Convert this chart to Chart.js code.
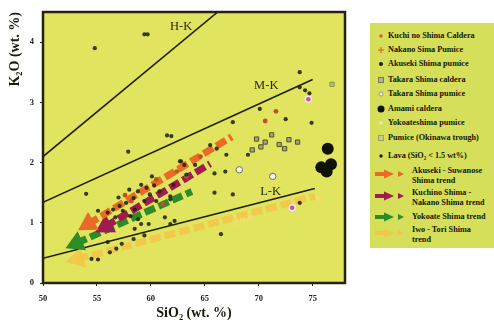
<!DOCTYPE html>
<html lang="en">
<head>
    <meta charset="UTF-8">
    <title>K2O vs SiO2</title>
    <script src="https://cdn.jsdelivr.net/npm/chart.js"></script>
    <style>
        html, body { margin: 0; padding: 0; background: #fff; }
        .wrap { position: relative; width: 494px; height: 322px; overflow: hidden; }
        .legend {
            position: absolute; left: 370px; top: 23px; width: 130px; height: 225px;
            background: #d5df5a;
            font: bold 8.2px "Liberation Serif", "DejaVu Serif", serif; color: #151505;
        }
        .legend .row { position: absolute; left: 0; white-space: nowrap; line-height: 10px; }
        .legend .mk { position: absolute; left: 4px; width: 10px; height: 10px; }
        .legend .tx { position: absolute; left: 18px; top: 0; }
        .legend .trend .tx { left: 42px; }
        .legend svg { position: absolute; left: 2px; top: 0; }
    </style>
</head>
<body>
<div class="wrap">
    <canvas id="chart" width="494" height="322"></canvas>
    <div class="legend" id="legend"></div>
</div>
<script>
// axes
const xTicks = [50, 55, 60, 65, 70, 75];
const yTicks = [0, 1, 2, 3, 4];

// classification boundaries
const zoneNames = ['H-K', 'M-K', 'L-K'];
const zoneX = [[50, 66.2], [50, 75], [50, 75.2]];
const zoneY = [[2.1, 4.5], [1.34, 3.38], [0.41, 1.57]];
const zoneLabelX = [62.8, 70.7, 71.1];
const zoneLabelY = [4.26, 3.28, 1.52];

// scatter groups
const lavaX = [54.8, 59.4, 59.7, 57.9, 54.0, 60.1, 59.1, 59.6, 58.8, 58.4, 59.9, 60.8, 59.4, 57.7, 57.1,
    56.5, 57.4, 58.5, 58.8, 56.0, 56.7, 58.1, 60.5, 61.8, 62.1, 62.7, 63.1, 63.3, 61.8, 55.1, 59.1,
    61.9, 62.8, 64.1, 65.5, 66.1, 67.0, 67.6, 69.0, 66.9, 65.9, 65.9, 67.6, 61.8, 66.5, 58.5, 58.4,
    57.3, 56.8, 56.2, 54.5, 55.1, 56.0, 59.4, 59.8, 61.3, 62.2, 61.5, 70.1, 72.5, 74.9, 73.8, 73.8,
    74.3, 74.7, 73.8, 57.0, 58.0, 60.3];
const lavaY = [3.9, 4.13, 4.13, 2.18, 1.48, 1.77, 1.63, 1.58, 1.52, 1.41, 1.47, 1.52, 1.36, 1.33, 1.28,
    1.22, 1.2, 1.22, 1.06, 1.17, 1.09, 1.11, 1.36, 1.44, 1.63, 2.02, 1.96, 1.8, 0.98, 1.2, 0.98,
    2.44, 2.02, 1.96, 2.29, 2.23, 2.13, 2.67, 2.13, 1.85, 1.82, 1.5, 1.47, 1.39, 0.81, 0.9, 0.73,
    0.65, 0.57, 0.51, 0.4, 0.39, 0.68, 0.79, 0.98, 1.09, 1.03, 2.45, 2.89, 2.72, 2.66, 3.5, 3.25,
    3.2, 3.15, 1.33, 1.42, 1.55, 1.62];
const nakanoX = [60.5, 62.4, 63.3, 61.1, 71.6, 70.6, 64.6, 58.2, 57.6];
const nakanoY = [1.72, 1.85, 1.77, 1.31, 2.85, 2.69, 2.1, 1.36, 1.46];
const kuchiX = [74.6, 73.1];
const kuchiY = [3.05, 1.25];
const takaraCalderaX = [69.8, 69.4, 70.6, 71.2, 71.9, 72.8, 73.6, 70.2, 72.4];
const takaraCalderaY = [2.39, 2.21, 2.34, 2.46, 2.3, 2.38, 2.34, 2.26, 2.23];
const takaraPumiceX = [71.3, 68.2];
const takaraPumiceY = [1.77, 1.88];
const amamiX = [76.4, 75.8, 76.3, 76.7];
const amamiY = [2.23, 1.92, 1.85, 1.97];
const yokoatePumiceX = [67.8, 68.5, 69.2, 75.6];
const yokoatePumiceY = [1.0, 1.04, 1.08, 1.41];
const okinawaX = [76.8];
const okinawaY = [3.3];

// trends (first point = arrow head)
const trendNames = ['Akuseki - Suwanose Shima trend', 'Kuchino Shima - Nakano Shima trend', 'Yokoate Shima trend', 'Iwo - Tori Shima trend'];
const trendX = [[54.2, 67.5], [55.8, 65.5], [53.1, 63.8], [53.2, 75.2]];
const trendY = [[0.98, 2.43], [0.94, 1.98], [0.66, 1.52], [0.4, 1.44]];
const trendColors = ['#ea6a26', '#9e1c4e', '#2e8c26', 'rgba(244,196,70,0.85)'];

const pts = (xs, ys) => xs.map((x, i) => ({ x: x, y: ys[i] }));

const datasets = [];
zoneNames.forEach((n, i) => datasets.push({
    type: 'line', label: n, data: pts(zoneX[i], zoneY[i]),
    borderColor: '#1e1e0e', borderWidth: 1.6, pointRadius: 0, order: 5
}));
trendNames.forEach((n, i) => datasets.push({
    type: 'line', label: n, data: pts(trendX[i], trendY[i]),
    borderColor: trendColors[i], backgroundColor: trendColors[i],
    borderWidth: 7, borderDash: [11, 4],
    pointStyle: 'triangle', pointRadius: [12, 0], pointBorderWidth: 0,
    pointRotation: function (c) {
        const d = c.dataset.data, sx = c.chart.scales.x, sy = c.chart.scales.y;
        const dx = sx.getPixelForValue(d[0].x) - sx.getPixelForValue(d[1].x);
        const dy = sy.getPixelForValue(d[0].y) - sy.getPixelForValue(d[1].y);
        return Math.atan2(dx, -dy) * 180 / Math.PI;
    },
    order: 4
}));
datasets.push({ label: 'Lava', data: pts(lavaX, lavaY), pointRadius: 2.1, backgroundColor: 'rgba(38,38,18,0.9)', borderWidth: 0, order: 1 });
datasets.push({ label: 'Nakano Sima Pumice', data: pts(nakanoX, nakanoY), pointRadius: 2.4, backgroundColor: '#c0502a', borderWidth: 0, order: 1 });
datasets.push({ label: 'Kuchi no Shima Caldera', data: pts(kuchiX, kuchiY), pointRadius: 3, backgroundColor: '#d0508a', borderColor: '#f4e8f0', borderWidth: 1.5, order: 1 });
datasets.push({ label: 'Takara Shima caldera', data: pts(takaraCalderaX, takaraCalderaY), pointStyle: 'rect', pointRadius: 3, backgroundColor: '#a4a47a', borderColor: '#505030', borderWidth: 1, order: 1 });
datasets.push({ label: 'Takara Shima pumice', data: pts(takaraPumiceX, takaraPumiceY), pointRadius: 3.2, backgroundColor: '#f2f2f0', borderColor: '#707060', borderWidth: 1, order: 1 });
datasets.push({ label: 'Amami caldera', data: pts(amamiX, amamiY), pointRadius: 6, backgroundColor: '#111108', borderWidth: 0, order: 1 });
datasets.push({ label: 'Yokoateshima pumice', data: pts(yokoatePumiceX, yokoatePumiceY), pointStyle: 'crossRot', pointRadius: 4, borderColor: 'rgba(245,220,110,0.9)', borderWidth: 2, order: 1 });
datasets.push({ label: 'Pumice (Okinawa trough)', data: pts(okinawaX, okinawaY), pointStyle: 'rect', pointRadius: 3, backgroundColor: '#b8c070', borderColor: '#8a9050', borderWidth: 1, order: 1 });

const frame = {
    id: 'frame',
    beforeDraw(chart) {
        const a = chart.chartArea, c = chart.ctx;
        c.save();
        c.fillStyle = '#e1e45e';
        c.fillRect(a.left, a.top, a.right - a.left, a.bottom - a.top);
        c.restore();
    },
    afterDraw(chart) {
        const a = chart.chartArea, c = chart.ctx;
        c.save();
        c.strokeStyle = '#24230f';
        c.lineWidth = 2.5;
        c.strokeRect(a.left, a.top, a.right - a.left, a.bottom - a.top);
        c.font = '12.5px "Liberation Serif", serif';
        c.fillStyle = '#2a2a14';
        c.textAlign = 'center';
        c.textBaseline = 'middle';
        zoneNames.forEach((n, i) => {
            c.fillText(n, chart.scales.x.getPixelForValue(zoneLabelX[i]), chart.scales.y.getPixelForValue(zoneLabelY[i]));
        });
        c.restore();
    }
};

const tickFont = { family: '"Liberation Serif", serif', size: 8.5, weight: 'bold' };
const titleFont = { family: '"Liberation Serif", serif', size: 14, weight: 'bold' };

new Chart(document.getElementById('chart'), {
    type: 'scatter',
    data: { datasets: datasets },
    options: {
        responsive: false,
        animation: false,
        layout: { padding: { left: 0, top: 8, right: 149, bottom: 0 } },
        plugins: { legend: { display: false }, tooltip: { enabled: false } },
        scales: {
            x: {
                min: 50, max: 78,
                afterBuildTicks: s => { s.ticks = xTicks.map(v => ({ value: v })); },
                afterFit: s => { s.height = 39; },
                grid: { drawOnChartArea: false, tickLength: 3, color: '#24230f' },
                border: { display: false },
                ticks: { font: tickFont, color: '#222', padding: 8 },
                title: { display: true, text: 'SiO₂ (wt. %)', font: titleFont, color: '#1a1a0a', padding: { top: 0, bottom: 0 } }
            },
            y: {
                min: 0, max: 4.5,
                afterBuildTicks: s => { s.ticks = yTicks.map(v => ({ value: v })); },
                afterFit: s => { s.width = 43; },
                grid: { drawOnChartArea: false, tickLength: 3, color: '#24230f' },
                border: { display: false },
                ticks: { font: tickFont, color: '#222', padding: 6 },
                title: { display: true, text: 'K₂O (wt. %)', font: titleFont, color: '#1a1a0a', align: 'end', padding: { top: 7, bottom: 0 } }
            }
        }
    },
    plugins: [frame]
});

// legend
const legendRows = [
    { top: 8, text: 'Kuchi no Shima Caldera', mk: '<svg width="10" height="10"><circle cx="5" cy="5" r="1.8" fill="#d0603a"/></svg>' },
    { top: 22, text: 'Nakano Sima Pumice', mk: '<svg width="10" height="10"><path d="M5 2V8M2 5H8" stroke="#e07a30" stroke-width="1.5"/></svg>' },
    { top: 36, text: 'Akuseki Shima pumice', mk: '<svg width="10" height="10"><circle cx="5" cy="5" r="2" fill="#1c1c0c"/></svg>' },
    { top: 52, text: 'Takara Shima caldera', mk: '<svg width="10" height="10"><rect x="2.5" y="2.5" width="5" height="5" fill="#b4b48a" stroke="#7a7a55"/></svg>' },
    { top: 66, text: 'Takara Shima pumice', mk: '<svg width="10" height="10"><circle cx="5" cy="5" r="2" fill="#f4f4ee" stroke="#9a9a80"/></svg>' },
    { top: 81, text: 'Amami caldera', mk: '<svg width="10" height="10"><circle cx="5" cy="5" r="3.5" fill="#111108"/></svg>' },
    { top: 95, text: 'Yokoateshima pumice', mk: '<svg width="10" height="10"><circle cx="5" cy="5" r="1.8" fill="#eceaa0"/></svg>' },
    { top: 110, text: 'Pumice (Okinawa trough)', mk: '<svg width="10" height="10"><rect x="2.5" y="2.5" width="5" height="5" fill="#c8cc8a" stroke="#9aa060"/></svg>' },
    { top: 128, text: 'Lava (SiO₂ &lt; 1.5 wt%)', mk: '<svg width="10" height="10"><circle cx="5" cy="5" r="1.7" fill="#1c1c0c"/></svg>' }
];
const trendRows = [
    { top: 143, lines: ['Akuseki - Suwanose', 'Shima trend'] },
    { top: 165, lines: ['Kuchino Shima -', 'Nakano Shima trend'] },
    { top: 189, lines: ['Yokoate Shima trend'] },
    { top: 202, lines: ['Iwo - Tori Shima', 'trend'] }
];
const lg = document.getElementById('legend');
let html = '';
legendRows.forEach(r => {
    html += '<div class="row" style="top:' + r.top + 'px;width:130px;height:10px">' +
        '<span class="mk">' + r.mk + '</span><span class="tx">' + r.text + '</span></div>';
});
trendRows.forEach((r, i) => {
    const c = trendColors[i];
    const cy = r.lines.length > 1 ? 8 : 5;
    const icon = '<svg width="40" height="' + (cy * 2) + '">' +
        '<line x1="3" y1="' + cy + '" x2="14" y2="' + cy + '" stroke="' + c + '" stroke-width="4"/>' +
        '<path d="M12 ' + (cy - 4.5) + 'L22 ' + cy + 'L12 ' + (cy + 4.5) + 'Z" fill="' + c + '"/>' +
        '<path d="M26 ' + (cy - 3) + 'L32 ' + cy + 'L26 ' + (cy + 3) + 'Z" fill="' + c + '"/></svg>';
    html += '<div class="row trend" style="top:' + r.top + 'px;width:130px;height:' + (cy * 2) + 'px">' + icon +
        '<span class="tx">' + r.lines.join('<br>') + '</span></div>';
});
lg.innerHTML = html;
</script>
</body>
</html>
